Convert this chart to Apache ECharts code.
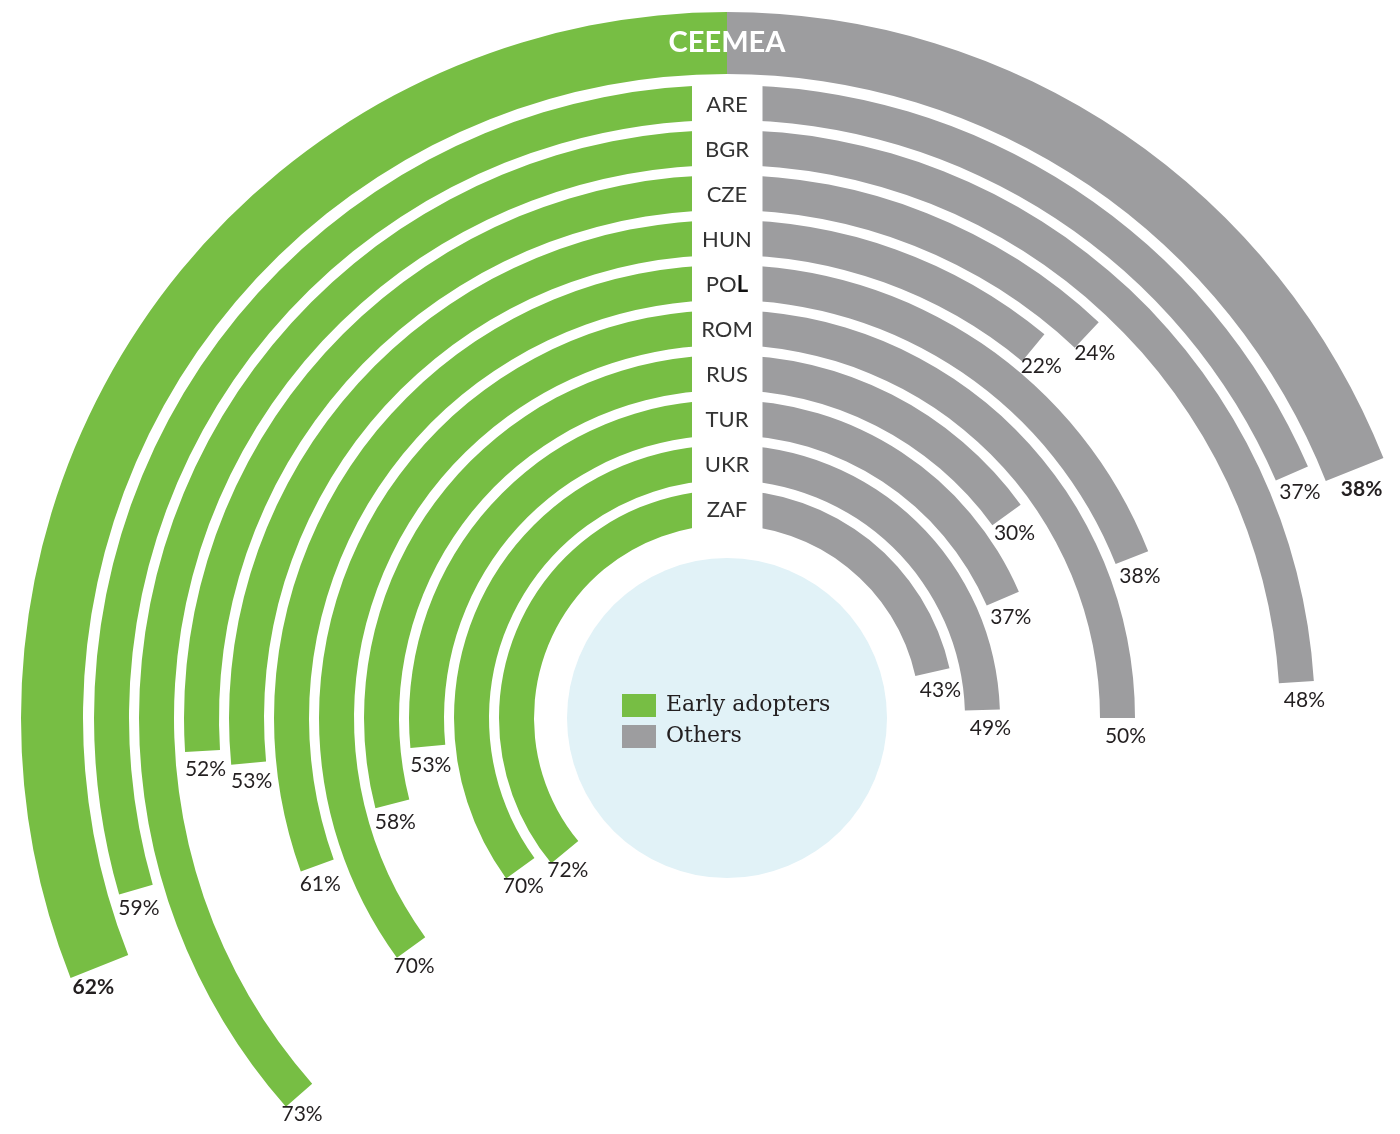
<!DOCTYPE html>
<html>
<head>
<meta charset="utf-8">
<script src="https://cdn.jsdelivr.net/npm/echarts@6/dist/echarts.min.js"></script>
<style>
  html, body { margin: 0; padding: 0; background: #ffffff; }
  #chart { width: 1400px; height: 1134px; }
</style>
</head>
<body>
<div id="chart"></div>
<script>
// Country rows, listed from the outer ring to the inner ring
const countries = ['ARE', 'BGR', 'CZE', 'HUN', 'POL', 'ROM', 'RUS', 'TUR', 'UKR', 'ZAF'];
const earlyAdopters = [59, 73, 52, 53, 61, 70, 58, 53, 70, 72];
const others = [37, 48, 24, 22, 38, 50, 30, 37, 49, 43];

// Regional total drawn as the outermost ring
const regionName = 'CEEMEA';
const regionEarly = [62];
const regionOthers = [38];

const seriesNames = ['Early adopters', 'Others'];

// Layout and styling
const CX = 727, CY = 718;
const GREEN = '#77be44';
const GRAY = '#9d9d9f';
const TEXT = '#231f20';
const SANS = 'Lato, "Noto Sans", sans-serif';
const FULL_SCALE = 200; // 100% spans half a turn

// Radial axis runs inner -> outer, so flip the row order
const catsInOut = countries.slice().reverse();
const earlyInOut = earlyAdopters.slice().reverse();
const othersInOut = others.slice().reverse();

function angleAxis(polarIndex, clockwise) {
  return {
    polarIndex, type: 'value', min: 0, max: FULL_SCALE, startAngle: 90, clockwise,
    axisLine: { show: false }, axisTick: { show: false },
    axisLabel: { show: false }, splitLine: { show: false }
  };
}

function radiusAxis(polarIndex, data, labelOpt) {
  return {
    polarIndex, type: 'category', data, z: 30,
    axisLine: { show: false }, axisTick: { show: false }, splitLine: { show: false },
    axisLabel: labelOpt ? Object.assign({
      show: true, interval: 0, margin: 0, align: 'center', verticalAlign: 'middle'
    }, labelOpt) : { show: false }
  };
}

function valueLabel(bold, offset) {
  return {
    show: true, position: 'endAngle', distance: 0, rotate: 0,
    formatter: '{c}%', align: 'center', verticalAlign: 'top', offset,
    fontFamily: SANS, fontSize: 21, fontWeight: bold ? 'bold' : 'normal', color: TEXT
  };
}

function barSeries(name, polarIndex, data, color, width, label) {
  return {
    name, type: 'bar', coordinateSystem: 'polar', polarIndex, data,
    barWidth: width, itemStyle: { color }, label, z: 2, silent: true
  };
}

const ringRadius = [188, 638];
const regionRadius = [644, 706];

const option = {
  animation: false,
  backgroundColor: '#ffffff',
  polar: [
    { center: [CX, CY], radius: ringRadius },   // others, rows
    { center: [CX, CY], radius: ringRadius },   // early adopters, rows
    { center: [CX, CY], radius: regionRadius }, // others, region
    { center: [CX, CY], radius: regionRadius }  // early adopters, region
  ],
  angleAxis: [angleAxis(0, true), angleAxis(1, false), angleAxis(2, true), angleAxis(3, false)],
  radiusAxis: [
    radiusAxis(0, catsInOut, {
      fontFamily: SANS, fontSize: 22, color: '#333333', padding: [4, 0, 0, 0],
      formatter: v => v === 'POL' ? '{r|PO}{b|L}' : v,
      rich: {
        r: { fontFamily: SANS, fontSize: 22, color: '#333333' },
        b: { fontFamily: SANS, fontSize: 22, color: '#111111', fontWeight: 'bold' }
      }
    }),
    radiusAxis(1, catsInOut, null),
    radiusAxis(2, [regionName], {
      fontFamily: SANS, fontSize: 29, fontWeight: 'bold', color: '#ffffff', padding: [2, 0, 0, 0]
    }),
    radiusAxis(3, [regionName], null)
  ],
  legend: {
    data: seriesNames, orient: 'vertical', left: 617, top: 689,
    icon: 'rect', itemWidth: 34, itemHeight: 23, itemGap: 8,
    selectedMode: false, z: 20,
    textStyle: { fontFamily: '"DejaVu Serif", serif', fontSize: 22, color: TEXT, padding: [0, 0, 0, 5] }
  },
  graphic: [
    { type: 'circle', shape: { cx: CX, cy: CY, r: 160 }, style: { fill: '#e1f2f7' }, z: 0, silent: true },
    // blank column that holds the country codes
    { type: 'rect', shape: { x: 692, y: 78, width: 70.5, height: 452 }, style: { fill: '#ffffff' }, z: 10, silent: true }
  ],
  series: [
    barSeries(seriesNames[1], 0, othersInOut, GRAY, 35, valueLabel(false, [8, 8])),
    barSeries(seriesNames[0], 1, earlyInOut, GREEN, 35, valueLabel(false, [3, 8])),
    barSeries(seriesNames[1], 2, regionOthers, GRAY, 62, valueLabel(true, [7, 9])),
    barSeries(seriesNames[0], 3, regionEarly, GREEN, 62, valueLabel(true, [-6, 10]))
  ]
};

const chart = echarts.init(document.getElementById('chart'), null, { renderer: 'canvas' });
chart.setOption(option);
</script>
</body>
</html>
